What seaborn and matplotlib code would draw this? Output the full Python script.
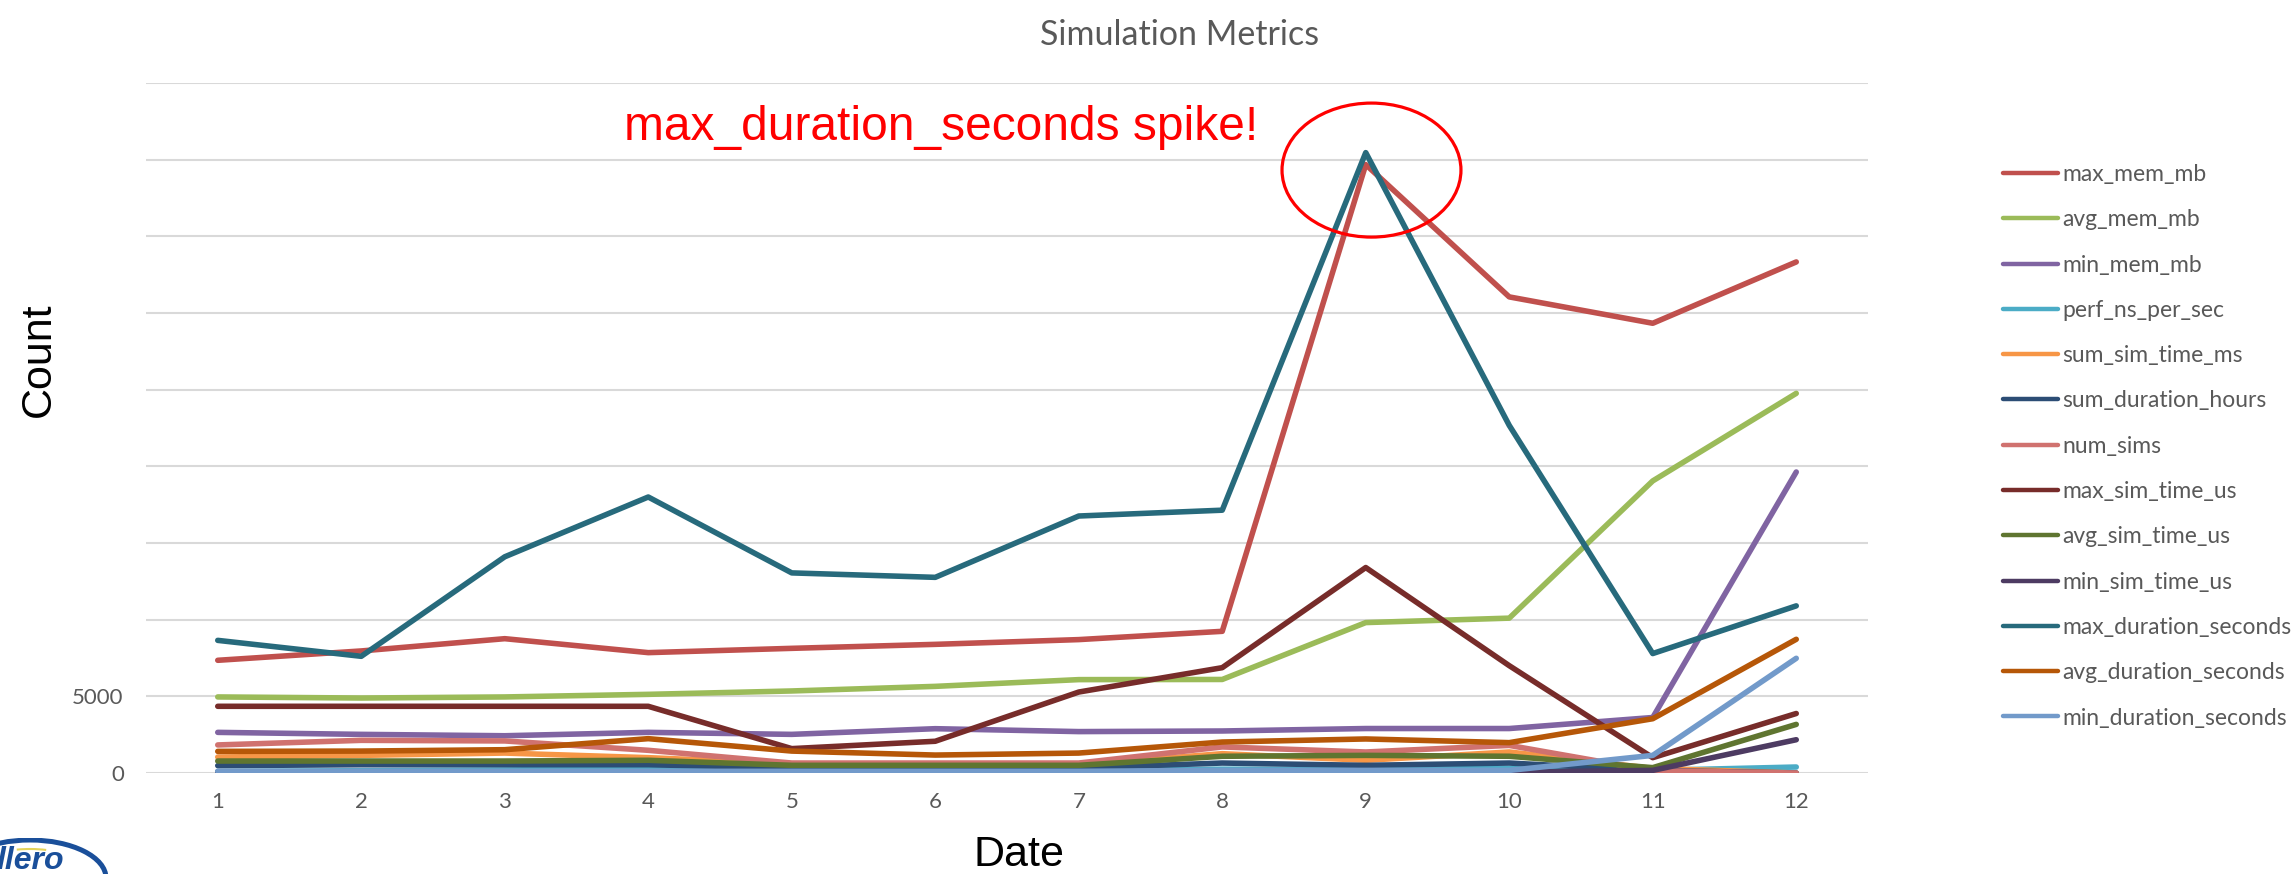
import matplotlib
matplotlib.use("Agg")
import matplotlib.pyplot as plt
from matplotlib.patches import Ellipse, Arc
from matplotlib.lines import Line2D
import seaborn as sns
import numpy as np
import pandas as pd

# data
dates = list(range(1, 13))

max_mem_mb = [7350, 7960, 8760, 7850, 8130, 8390, 8700, 9240, 39680, 31050, 29330, 33330]
avg_mem_mb = [4960, 4890, 4960, 5130, 5350, 5650, 6090, 6100, 9810, 10100, 19050, 24760]
min_mem_mb = [2650, 2520, 2430, 2650, 2520, 2890, 2700, 2740, 2900, 2900, 3620, 19630]
perf_ns_per_sec = [100, 150, 200, 280, 120, 120, 150, 250, 220, 300, 170, 390]
sum_sim_time_ms = [1040, 1150, 1300, 1000, 610, 540, 540, 1260, 830, 1370, 300, 0]
sum_duration_hours = [480, 540, 540, 540, 330, 330, 330, 650, 500, 650, 170, 0]
num_sims = [1830, 2130, 2090, 1480, 650, 650, 650, 1700, 1370, 1800, 150, 0]
max_sim_time_us = [4350, 4350, 4350, 4350, 1590, 2070, 5280, 6870, 13400, 7000, 1000, 3880]
avg_sim_time_us = [780, 780, 780, 830, 500, 500, 500, 1090, 1150, 1090, 350, 3170]
min_sim_time_us = [50, 50, 50, 50, 30, 30, 30, 60, 60, 60, 170, 2170]
max_duration_seconds = [8650, 7610, 14100, 18000, 13050, 12760, 16760, 17140, 40460, 22670, 7790, 10900]
avg_duration_seconds = [1410, 1430, 1520, 2240, 1430, 1170, 1300, 2020, 2220, 1980, 3540, 8720]
min_duration_seconds = [110, 110, 110, 110, 110, 110, 110, 170, 170, 170, 1150, 7480]

SERIES = {
    "max_mem_mb": (max_mem_mb, "#C0504D"),
    "avg_mem_mb": (avg_mem_mb, "#9BBB59"),
    "min_mem_mb": (min_mem_mb, "#8064A2"),
    "perf_ns_per_sec": (perf_ns_per_sec, "#4BACC6"),
    "sum_sim_time_ms": (sum_sim_time_ms, "#F79646"),
    "sum_duration_hours": (sum_duration_hours, "#2C4D75"),
    "num_sims": (num_sims, "#D0726F"),
    "max_sim_time_us": (max_sim_time_us, "#772C2A"),
    "avg_sim_time_us": (avg_sim_time_us, "#5F7530"),
    "min_sim_time_us": (min_sim_time_us, "#4D3B62"),
    "max_duration_seconds": (max_duration_seconds, "#276A7C"),
    "avg_duration_seconds": (avg_duration_seconds, "#B65708"),
    "min_duration_seconds": (min_duration_seconds, "#729ACA"),
}

W, H = 2292, 874
GRAY = "#595959"
LW = 4.0

rows = []
for name, (vals, _) in SERIES.items():
    for d, v in zip(dates, vals):
        rows.append({"Date": d, "Count": v, "metric": name})
df = pd.DataFrame(rows)
palette = {k: c for k, (_, c) in SERIES.items()}

sns.set_theme(style="white")
plt.rcParams["font.family"] = ["Lato", "DejaVu Sans"]

fig = plt.figure(figsize=(W / 100, H / 100), dpi=100)
ax = fig.add_axes([146 / W, 1 - 773 / H, (1868 - 146) / W, (773 - 83) / H])

sns.lineplot(data=df, x="Date", y="Count", hue="metric", hue_order=list(SERIES),
             palette=palette, sort=False, legend=False, ax=ax)
for line in ax.lines:
    line.set_linewidth(LW)
    line.set_solid_capstyle("round")
    line.set_solid_joinstyle("round")

ax.set_xlim(0.5, 12.5)
ax.set_ylim(0, 45000)
ax.set_xticks(dates)
ax.set_xticklabels([str(d) for d in dates])
yt = np.arange(0, 45001, 5000)
ax.set_yticks(yt)
ax.set_yticklabels(["0", "5000"] + [""] * (len(yt) - 2))
ax.yaxis.grid(True, color="#D9D9D9", linewidth=1.5)
ax.set_axisbelow(True)
for s in ax.spines.values():
    s.set_visible(False)
ax.tick_params(axis="both", length=0, labelsize=16, labelcolor=GRAY)
ax.tick_params(axis="x", pad=14)
ax.tick_params(axis="y", pad=16)
ax.set_xlabel("")
ax.set_ylabel("")

# annotation
ax.text(3.83, 41280, "max_duration_seconds spike!", color="red", fontsize=34.5,
        family=["Liberation Sans", "DejaVu Sans"], ha="left", va="baseline")
ax.add_patch(Ellipse((9.04, 39320), 1.247, 8740, fill=False, edgecolor="red",
                     linewidth=2.3, clip_on=False, zorder=5))

# titles / labels
fig.text(1180 / W, 1 - 45 / H, "Simulation Metrics", color=GRAY, fontsize=24.5,
         ha="center", va="baseline")
fig.text(1019 / W, 1 - 866 / H, "Date", color="black", fontsize=31,
         family=["Liberation Sans", "DejaVu Sans"], ha="center", va="baseline")
fig.text(50 / W, 1 - 360 / H, "Count", color="black", fontsize=31, rotation=90,
         rotation_mode="anchor", family=["Liberation Sans", "DejaVu Sans"],
         ha="center", va="baseline")

# legend
handles = [Line2D([0], [0], color=c, linewidth=3.2, solid_capstyle="round")
           for _, c in SERIES.values()]
fig.legend(handles, list(SERIES), loc="upper left", bbox_to_anchor=(2003 / W, 1 - 164 / H),
           frameon=False, fontsize=16.5, labelcolor=GRAY, handlelength=2.4,
           handletextpad=0.2, labelspacing=1.06, borderpad=0, borderaxespad=0)

# partial logo in the bottom-left corner
lax = fig.add_axes([0, 0, 110 / W, 36 / H])
lax.set_xlim(0, 110)
lax.set_ylim(0, 36)
lax.axis("off")
lax.add_patch(Ellipse((30, -4), 152, 76, facecolor="white", edgecolor="#1A4F9A", linewidth=3.6))
lax.add_patch(Arc((30, -4), 128, 58, theta1=60, theta2=115, color="#E3D35A", linewidth=1.5))
lax.text(-4, 28, "llero", color="#1A4F9A", fontsize=23, fontweight="bold", style="italic",
         ha="left", va="top", family=["Liberation Sans", "DejaVu Sans"], clip_on=True)

fig.savefig("out.png", dpi=100)
